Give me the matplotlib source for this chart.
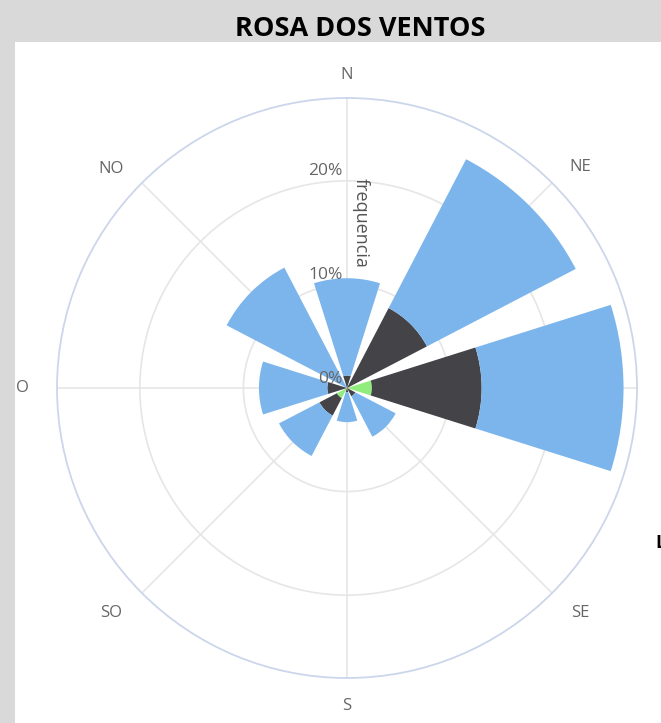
import numpy as np
import matplotlib.pyplot as plt
from matplotlib.patches import Rectangle
from matplotlib import transforms

# Wind directions (Portuguese labels) and their compass angles
directions = ['N', 'NE', 'L', 'SE', 'S', 'SO', 'O', 'NO']
angles_deg = [0, 45, 90, 135, 180, 225, 270, 315]

# Stacked frequencies (%) per series, from the base outwards
freq_orange = [0.0, 0.0, 0.2, 0.0, 0.0, 0.0, 0.0, 0.0]
freq_green = [0.0, 0.0, 2.2, 0.0, 0.0, 1.1, 0.0, 0.0]
freq_dark = [1.2, 8.7, 10.6, 0.9, 0.4, 1.9, 1.9, 0.0]
freq_blue = [9.4, 16.2, 13.7, 4.4, 2.9, 4.4, 6.6, 13.1]

radial_ticks = [0, 10, 20]
radial_labels = ['0%', '10%', '20%']

W, H = 661, 723
fig = plt.figure(figsize=(W / 100, H / 100), dpi=100)
fig.patch.set_facecolor('#d9d9d9')

# White panel below the title bar
fig.patches.append(Rectangle((15 / W, 0), 1 - 15 / W, (H - 42) / H,
                             transform=fig.transFigure, facecolor='white',
                             edgecolor='none', zorder=-5))

fig.text(360 / W, 1 - 26 / H, 'ROSA DOS VENTOS', ha='center', va='center_baseline',
         fontsize=19.5, fontweight='bold', family=['Open Sans', 'DejaVu Sans'],
         color='black')

# Polar axes: centre at (347, 388) px, radius 290 px
cx, cy, rad = 347, 388, 290
ax = fig.add_axes([(cx - rad) / W, (H - cy - rad) / H, 2 * rad / W, 2 * rad / H],
                  projection='polar')
ax.set_facecolor('none')
ax.set_theta_zero_location('N')
ax.set_theta_direction(-1)
rmax = 28.0
ax.set_ylim(0, rmax)

theta = np.deg2rad(angles_deg)
width = np.deg2rad(35)

bottom = np.zeros(len(directions))
for vals, col in [(freq_orange, '#f7a35c'), (freq_green, '#90ed7d'),
                  (freq_dark, '#434348'), (freq_blue, '#7cb5ec')]:
    ax.bar(theta, vals, width=width, bottom=bottom, color=col,
           edgecolor='none', zorder=3)
    bottom = bottom + np.array(vals)

# Grid
ax.set_axisbelow(True)
ax.set_thetagrids(angles_deg, [''] * len(angles_deg))
ax.set_rgrids([10, 20], ['', ''])
ax.grid(True, color='#e6e6e6', linewidth=1.2)
ax.spines['polar'].set_color('#ccd6eb')
ax.spines['polar'].set_linewidth(1.3)
ax.tick_params(length=0)

# Direction labels just outside the circle (the east label falls outside the frame)
label_offsets_px = [(0, 23), (28, 16), (35, 0), (28, -20),
                    (0, -28), (-31, -20), (-35, 0), (-31, 14)]
for ang, lab, (dx, dy) in zip(theta, directions, label_offsets_px):
    if lab == 'L':
        continue
    tr = transforms.offset_copy(ax.transData, fig=fig, x=dx, y=dy, units='dots')
    ax.text(ang, rmax, lab, transform=tr, ha='center', va='center', fontsize=12,
            family=['Open Sans', 'DejaVu Sans'], color='#666666', clip_on=False)

# Radial tick labels next to the north axis
off = transforms.offset_copy(ax.transData, fig=fig, x=-3, y=1, units='points')
for r, lab in zip(radial_ticks, radial_labels):
    ax.text(0, r, lab, transform=off, ha='right', va='bottom', fontsize=12.5,
            family=['Open Sans', 'DejaVu Sans'], color='#666666', zorder=5)

fig.text(361 / W, 1 - 178 / H, 'frequencia', rotation=-90, ha='center', va='top',
         fontsize=13, family=['Open Sans', 'DejaVu Sans'], color='#555555',
         zorder=10)

fig.text(655 / W, 1 - 543 / H, 'L', ha='left', va='center', fontsize=13,
         fontweight='bold', family=['Open Sans', 'DejaVu Sans'], color='black')

fig.savefig('out.png', dpi=100)
